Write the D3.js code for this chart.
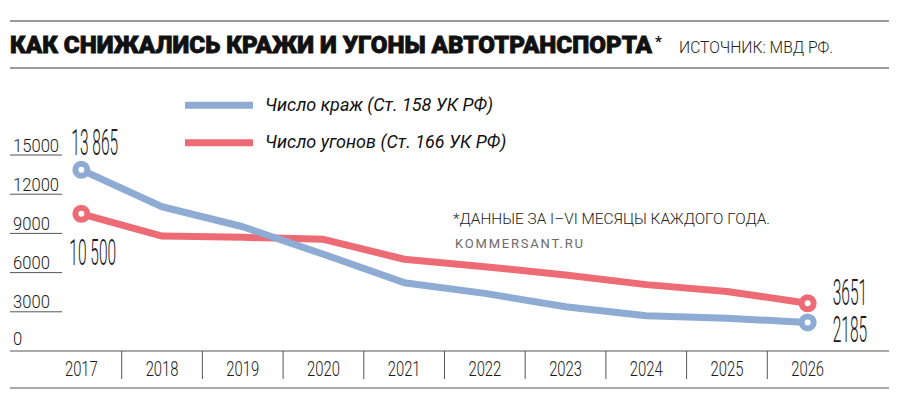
<!DOCTYPE html>
<html>
<head>
<meta charset="utf-8">
<script src="https://cdn.jsdelivr.net/npm/d3@7"></script>
<style>
  body { margin: 0; background: #fff; }
  svg { display: block; font-family: Roboto, "Noto Sans", sans-serif; }
</style>
</head>
<body>
<div id="chart"></div>
<script>
// --- Data ---
const years = [2017, 2018, 2019, 2020, 2021, 2022, 2023, 2024, 2025, 2026];
// Число краж (Ст. 158 УК РФ)
const theftValues = [13865, 11040, 9510, 7400, 5230, 4410, 3390, 2700, 2500, 2185];
// Число угонов (Ст. 166 УК РФ)
const hijackValues = [10500, 8800, 8700, 8550, 7020, 6450, 5820, 5080, 4560, 3651];
const yTicks = [0, 3000, 6000, 9000, 12000, 15000];
const seriesNames = ["Число краж (Ст. 158 УК РФ)", "Число угонов (Ст. 166 УК РФ)"];
const seriesColors = ["#8eabd4", "#ec6b75"];

const titleText = "КАК СНИЖАЛИСЬ КРАЖИ И УГОНЫ АВТОТРАНСПОРТА";
const sourceText = "ИСТОЧНИК: МВД РФ.";
const noteText = "*ДАННЫЕ ЗА I–VI МЕСЯЦЫ КАЖДОГО ГОДА.";
const creditText = "KOMMERSANT.RU";

const width = 900, height = 410;

const svg = d3.select("#chart").append("svg")
    .attr("width", width)
    .attr("height", height);

// scales
const x = d3.scaleBand().domain(years).range([41, 848]);
const y = d3.scaleLinear().domain([0, 15000]).range([351, 155]);
const cx = d => x(d) + x.bandwidth() / 2;

// thin condensed text: draw at origin and squeeze horizontally
function condensed(parent, text, px, py, size, sx, anchor, weight) {
    return parent.append("text")
        .attr("transform", `translate(${px},${py}) scale(${sx},1)`)
        .attr("text-anchor", anchor || "start")
        .attr("font-size", size)
        .attr("font-weight", weight || 300)
        .attr("fill", "#1a1a1a")
        .text(text);
}

// --- Header ---
svg.append("line").attr("x1", 10).attr("x2", 889).attr("y1", 21).attr("y2", 21)
    .attr("stroke", "#7a7a7a").attr("stroke-width", 1.5);
svg.append("line").attr("x1", 10).attr("x2", 889).attr("y1", 68).attr("y2", 68)
    .attr("stroke", "#7a7a7a").attr("stroke-width", 1.5);

svg.append("text")
    .attr("x", 10).attr("y", 53)
    .attr("font-size", 23).attr("font-weight", 900)
    .attr("fill", "#111")
    .attr("stroke", "#111").attr("stroke-width", 0.8)
    .attr("textLength", 642).attr("lengthAdjust", "spacingAndGlyphs")
    .text(titleText);
svg.append("text")
    .attr("x", 655).attr("y", 47)
    .attr("font-size", 15).attr("font-weight", 700).attr("fill", "#111")
    .text("*");

svg.append("text")
    .attr("x", 679).attr("y", 53)
    .attr("font-size", 17).attr("font-weight", 300).attr("fill", "#222")
    .attr("textLength", 154).attr("lengthAdjust", "spacingAndGlyphs")
    .text(sourceText);

// --- Legend ---
const legend = svg.append("g");
seriesNames.forEach((name, i) => {
    const ly = 105.3 + i * 37.4;
    legend.append("line")
        .attr("x1", 185).attr("x2", 253).attr("y1", ly).attr("y2", ly)
        .attr("stroke", seriesColors[i]).attr("stroke-width", 7);
    legend.append("text")
        .attr("x", 265).attr("y", ly + 5.5)
        .attr("font-size", 18).attr("font-style", "italic")
        .attr("fill", "#111")
        .text(name);
});

// --- Notes ---
svg.append("text")
    .attr("x", 453).attr("y", 224)
    .attr("font-size", 15).attr("font-weight", 300).attr("fill", "#222")
    .attr("textLength", 317).attr("lengthAdjust", "spacingAndGlyphs")
    .text(noteText);
svg.append("text")
    .attr("x", 455).attr("y", 248)
    .attr("font-size", 13).attr("font-weight", 400).attr("fill", "#6a6a6a")
    .attr("textLength", 128).attr("lengthAdjust", "spacing")
    .text(creditText);

// --- Y axis (labels with short underlines) ---
const yAxis = svg.append("g");
yTicks.forEach(t => {
    if (t > 0) {
        yAxis.append("line")
            .attr("x1", 10).attr("x2", 62).attr("y1", y(t)).attr("y2", y(t))
            .attr("stroke", "#555").attr("stroke-width", 1);
    }
    condensed(yAxis, t, 13, y(t) - (t > 0 ? 3.5 : 6), 17.5, 0.95, "start");
});

// --- X axis ---
const xAxis = svg.append("g");
xAxis.append("line").attr("x1", 10).attr("x2", 889).attr("y1", 351).attr("y2", 351)
    .attr("stroke", "#555").attr("stroke-width", 1.2);
xAxis.append("line").attr("x1", 10).attr("x2", 889).attr("y1", 388).attr("y2", 388)
    .attr("stroke", "#555").attr("stroke-width", 1.2);
years.slice(1).forEach(yr => {
    xAxis.append("line")
        .attr("x1", x(yr)).attr("x2", x(yr)).attr("y1", 351).attr("y2", 379)
        .attr("stroke", "#555").attr("stroke-width", 1);
});
years.forEach(yr => {
    condensed(xAxis, yr, cx(yr), 376, 19.5, 0.76, "middle");
});

// --- Lines ---
const series = [theftValues, hijackValues];
const line = d3.line()
    .x((d, i) => cx(years[i]))
    .y(d => y(d));

// red first so the blue line sits on top where they cross
[1, 0].forEach(s => {
    svg.append("path")
        .datum(series[s])
        .attr("d", line)
        .attr("fill", "none")
        .attr("stroke", seriesColors[s])
        .attr("stroke-width", 7)
        .attr("stroke-linejoin", "round");
});

// endpoint markers
series.forEach((vals, s) => {
    [0, vals.length - 1].forEach(i => {
        svg.append("circle")
            .attr("cx", cx(years[i])).attr("cy", y(vals[i]))
            .attr("r", 6)
            .attr("fill", "#fff")
            .attr("stroke", seriesColors[s])
            .attr("stroke-width", 6);
    });
});

// big value labels
const fmt = v => d3.format(",")(v).replace(",", " ");
const first = 0, last = years.length - 1;
condensed(svg, fmt(theftValues[first]), cx(years[first]) - 10, y(theftValues[first]) - 15, 37, 0.42, "start", 300);
condensed(svg, fmt(hijackValues[first]), cx(years[first]) - 12, y(hijackValues[first]) + 51, 37, 0.42, "start", 300);
condensed(svg, String(hijackValues[last]), cx(years[last]) + 25, y(hijackValues[last]) + 2, 37, 0.42, "start", 300);
condensed(svg, String(theftValues[last]), cx(years[last]) + 25, y(theftValues[last]) + 20, 37, 0.42, "start", 300);
</script>
</body>
</html>
